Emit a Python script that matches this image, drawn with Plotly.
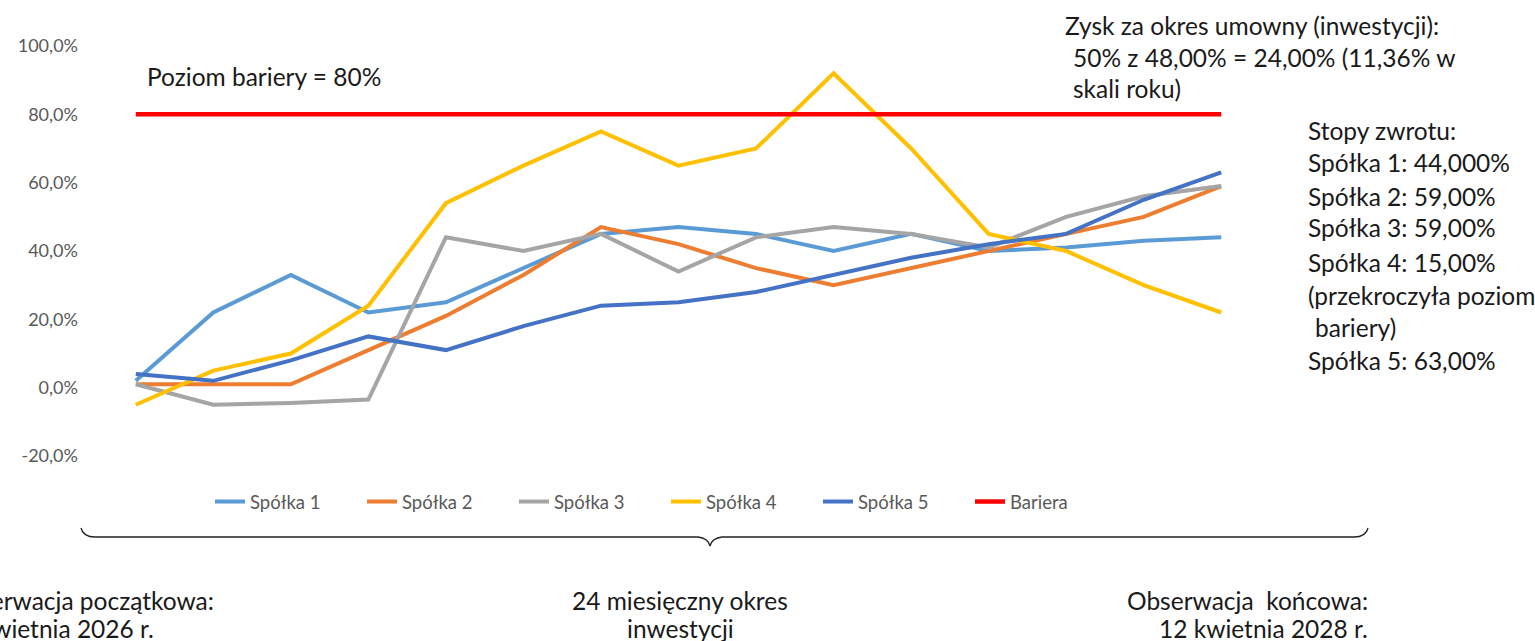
import plotly.graph_objects as go

# ---- data (values in %) ----
periods = list(range(15))
spolka1 = [2, 22, 33, 22, 25, 35, 45, 47, 45, 40, 45, 40, 41, 43, 44]
spolka2 = [1, 1, 1, 11, 21, 33, 47, 42, 35, 30, 35, 40, 45, 50, 59]
spolka3 = [1, -5, -4.5, -3.5, 44, 40, 45, 34, 44, 47, 45, 41, 50, 56, 59]
spolka4 = [-5, 5, 10, 24, 54, 65, 75, 65, 70, 92, 70, 45, 40, 30, 22]
spolka5 = [4, 2, 8, 15, 11, 18, 24, 25, 28, 33, 38, 42, 45, 55, 63]
bariera = [80] * 15

series_names = ["Spółka 1", "Spółka 2", "Spółka 3", "Spółka 4", "Spółka 5", "Bariera"]
series_vals = [spolka1, spolka2, spolka3, spolka4, spolka5, bariera]
colors = ["#5B9BD5", "#ED7D31", "#A5A5A5", "#FFC000", "#4472C4", "#FF0000"]
y_ticks = [-20, 0, 20, 40, 60, 80, 100]
y_tick_text = ["-20,0%", "0,0%", "20,0%", "40,0%", "60,0%", "80,0%", "100,0%"]

W, H = 1535, 641
L, R, T, B = 97, 275, 46, 185
PW, PH = W - L - R, H - T - B


def px(X):
    return (X - L) / PW


def py(Y):
    return (T + PH - Y) / PH


fig = go.Figure()
for name, vals, col in zip(series_names, series_vals, colors):
    fig.add_trace(go.Scatter(
        x=periods, y=vals, name=name, mode="lines",
        line=dict(color=col, width=4.5 if name == "Bariera" else 4),
    ))

TXT = "Lato"
ann = []


def add_text(text, X, Y, size=24.5, xanchor="left"):
    ann.append(dict(text=text, x=px(X), y=py(Y), xref="paper", yref="paper",
                    xanchor=xanchor, yanchor="middle", showarrow=False,
                    font=dict(family=TXT, size=size, color="#1a1a1a")))


add_text("Poziom bariery = 80%", 145, 77)
add_text("Zysk za okres umowny (inwestycji):", 1063, 26)
add_text("50% z 48,00% = 24,00% (11,36% w", 1071, 57)
add_text("skali roku)", 1071, 88)
stopy = ["Stopy zwrotu:", "Spółka 1: 44,000%", "Spółka 2: 59,00%", "Spółka 3: 59,00%",
         "Spółka 4: 15,00%", "(przekroczyła poziom", "bariery)", "Spółka 5: 63,00%"]
stopy_y = [130, 162, 196, 228, 262, 295, 327, 360]
for t, yy in zip(stopy, stopy_y):
    add_text(t, 1313 if t == "bariery)" else 1306, yy)

add_text("Obserwacja początkowa:", 216, 600, xanchor="right")
add_text("12 kwietnia 2026 r.", 156, 628, xanchor="right")
add_text("24 miesięczny okres", 680, 600, xanchor="center")
add_text("inwestycji", 680, 628, xanchor="center")
add_text("Obserwacja  końcowa:", 1370, 600, xanchor="right")
add_text("12 kwietnia 2028 r.", 1370, 628, xanchor="right")

# brace
pts = [(81, 528), (83, 537), (95, 537), (698, 537), (708, 538), (710, 546), (712, 538), (722, 537),
       (1354, 537), (1366, 537), (1368, 528)]
P = [(px(a), py(b)) for a, b in pts]
path = (f"M {P[0][0]},{P[0][1]} Q {P[1][0]},{P[1][1]} {P[2][0]},{P[2][1]} "
        f"L {P[3][0]},{P[3][1]} Q {P[4][0]},{P[4][1]} {P[5][0]},{P[5][1]} "
        f"Q {P[6][0]},{P[6][1]} {P[7][0]},{P[7][1]} "
        f"L {P[8][0]},{P[8][1]} Q {P[9][0]},{P[9][1]} {P[10][0]},{P[10][1]}")

SMALL = "Lato"
fig.update_layout(
    width=W, height=H,
    margin=dict(l=L, r=R, t=T, b=B, autoexpand=False),
    paper_bgcolor="white", plot_bgcolor="white",
    font=dict(family=SMALL, color="#595959", size=15),
    xaxis=dict(range=[-0.5, 14.5], showticklabels=False, showgrid=False,
               zeroline=False, showline=False, ticks=""),
    yaxis=dict(range=[-20, 100], tickvals=y_ticks, ticktext=y_tick_text,
               showgrid=False, zeroline=False, showline=False, ticks="",
               ticklabelstandoff=18,
               tickfont=dict(family=SMALL, size=18, color="#595959")),
    legend=dict(orientation="h", x=px(210), y=py(502), xanchor="left", yanchor="middle",
                font=dict(family=SMALL, size=18.5, color="#595959"),
                entrywidth=107, entrywidthmode="pixels",
                bgcolor="rgba(0,0,0,0)"),
    annotations=ann,
    shapes=[dict(type="path", path=path, xref="paper", yref="paper",
                 line=dict(color="#222222", width=1.3))],
)

fig.write_html("out.html", config={"displayModeBar": False},
               post_script="document.body.style.margin='0';document.body.style.overflow='hidden';")
